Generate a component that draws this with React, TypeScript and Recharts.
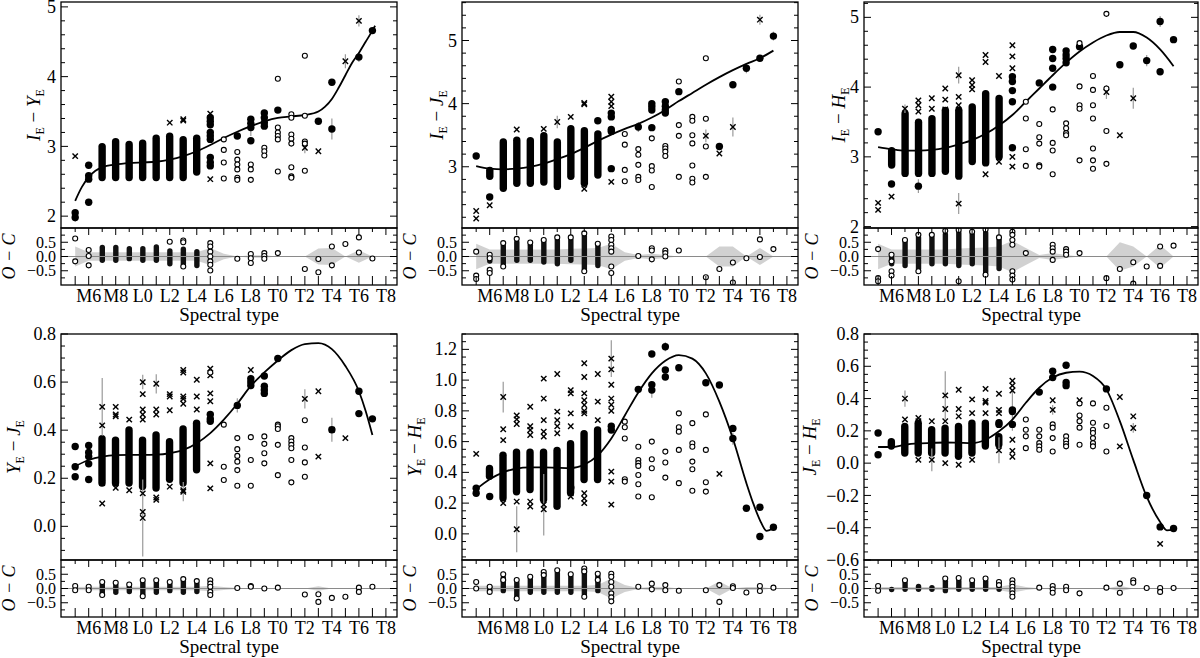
import React from 'react';
import { ComposedChart, Scatter, Bar, Area, XAxis, YAxis, ReferenceLine, ErrorBar } from 'recharts';

const FONT = 'Liberation Serif, DejaVu Serif, serif';

// spectral type index: M5 = 15, L0 = 20, T0 = 30, T8 = 38
const SPT_TICKS = [15, 16, 17, 18, 19, 20, 21, 22, 23, 24, 25, 26, 27, 28, 29, 30, 31, 32, 33, 34, 35, 36, 37, 38];
const SPT_LABEL_POS = [16, 18, 20, 22, 24, 26, 28, 30, 32, 34, 36, 38];
const SPT_LABELS = ['M6', 'M8', 'L0', 'L2', 'L4', 'L6', 'L8', 'T0', 'T2', 'T4', 'T6', 'T8'];
const BAND_SPT = [15, 16, 17, 18, 19, 20, 21, 22, 23, 24, 25, 26, 27, 28, 29, 30, 31, 32, 33, 34, 35, 36, 37];
const RES_MAJOR = [-0.5, 0, 0.5];
const RES_TICKS = [-0.75, -0.5, -0.25, 0, 0.25, 0.5, 0.75];
const X_DOMAIN: [number, number] = [13.95, 38.82];

type P2 = [number, number];
type P3 = [number, number, number];

// ---------- I_E - Y_E ----------
const iyCols: P3[] = [[17, 2.5, 3.05], [18, 2.5, 3.12], [19, 2.5, 3.08], [20, 2.5, 3.1], [21, 2.5, 3.17], [22, 2.5, 3.2], [23, 2.5, 3.15], [24, 2.58, 3.17]];
const iyFilled: P2[] = [[15, 2.05], [15, 1.98], [16, 2.73], [16, 2.58], [16, 2.53], [16, 2.2], [25, 3.41], [25, 3.36], [25, 3.31], [25, 3.2], [25, 3.15], [25, 3.1], [25, 2.84], [25, 2.77], [25, 2.72], [27, 3.15], [28, 3.39], [28, 3.33], [28, 3.27], [28, 3.08], [29, 3.48], [29, 3.41], [29, 3.34], [29, 3.29], [30, 3.52], [33, 3.36], [34, 3.92], [34, 3.25], [36, 4.28], [37, 4.66]];
const iyCross: P2[] = [[15, 2.86], [22, 3.34], [23, 3.39], [23, 3.37], [25, 3.47], [25, 2.53], [32, 2.98], [33, 2.93], [35, 4.22], [36, 4.8]];
const iyOpen: P2[] = [[26, 3.1], [26, 2.95], [26, 2.77], [26, 2.54], [27, 2.92], [27, 2.81], [27, 2.74], [27, 2.67], [27, 2.55], [27, 2.52], [28, 2.74], [28, 2.67], [28, 2.52], [29, 2.98], [29, 2.93], [29, 2.87], [30, 3.97], [30, 3.27], [30, 3.2], [30, 3.15], [30, 3.1], [30, 2.64], [31, 3.46], [31, 3.41], [31, 3.17], [31, 3.11], [31, 3.04], [31, 2.7], [31, 2.57], [31, 2.55], [32, 4.3], [32, 3.44], [32, 3.07], [32, 3.04], [32, 2.65]];
const iyFit: P2[] = [[15, 2.22], [15.5, 2.42], [16, 2.56], [16.5, 2.65], [17, 2.7], [18, 2.74], [19, 2.76], [20, 2.77], [21, 2.78], [22, 2.81], [23, 2.86], [24, 2.93], [25, 3.02], [26, 3.12], [27, 3.21], [28, 3.29], [29, 3.36], [30, 3.41], [31, 3.43], [32, 3.45], [33, 3.5], [33.5, 3.57], [34, 3.68], [34.5, 3.84], [35, 4.02], [35.5, 4.2], [36, 4.34], [36.5, 4.5], [37, 4.66], [37.2, 4.73]];
const iyErr: P3[] = [[36, 4.8, 0.08], [35, 4.22, 0.1], [34, 3.25, 0.15], [32, 2.98, 0.08], [28, 3.27, 0.12], [36, 4.28, 0.07], [15, 1.98, 0.06]];
const iyResCols: P3[] = [[17, -0.23, 0.41], [18, -0.23, 0.41], [19, -0.17, 0.37], [20, -0.23, 0.37], [21, -0.23, 0.43], [22, -0.35, 0.29], [23, -0.35, 0.35], [24, -0.41, 0.26]];
const iyResOpen: P2[] = [[15, 0.63], [15, -0.17], [16, 0.23], [16, 0.02], [16, -0.31], [22, 0.52], [23, 0.56], [23, 0.5], [23, -0.35], [25, 0.47], [25, 0.35], [25, 0.17], [25, 0], [25, -0.17], [25, -0.29], [25, -0.49], [27, -0.08], [28, 0.09], [28, -0.06], [28, -0.23], [29, 0.12], [29, 0.02], [29, -0.08], [30, 0.12], [32, -0.44], [33, -0.09], [33, -0.55], [34, 0.35], [34, -0.31], [35, 0.44], [36, 0.67], [36, 0.14], [37, -0.07]];
const iyBand = [0.35, 0.15, 0.15, 0.15, 0.15, 0.15, 0.15, 0.15, 0.15, 0.15, 0.3, 0.1, 0, 0.04, 0.04, 0, 0, 0, 0.28, 0.3, 0, 0.22, 0];

// ---------- I_E - J_E ----------
const ijCols: P3[] = [[16, 2.79, 3.0], [17, 2.6, 3.45], [18, 2.68, 3.48], [19, 2.68, 3.47], [20, 2.7, 3.55], [21, 2.63, 3.45], [22, 2.79, 3.66], [23, 2.68, 3.63], [24, 2.81, 3.58]];
const ijFilled: P2[] = [[15, 3.17], [16, 2.52], [24, 3.73], [25, 3.85], [25, 3.79], [25, 3.59], [25, 3.56], [25, 2.97], [27, 3.63], [28, 4.0], [28, 3.95], [28, 3.9], [28, 3.62], [29, 4.03], [29, 3.96], [29, 3.9], [29, 3.85], [30, 4.19], [33, 3.32], [34, 4.3], [35, 4.56], [36, 4.72], [37, 5.07]];
const ijCross: P2[] = [[15, 2.3], [15, 2.18], [16, 2.39], [18, 3.59], [20, 3.6], [21, 3.71], [22, 3.79], [23, 4.01], [23, 3.99], [23, 2.65], [25, 4.11], [25, 4.03], [25, 3.96], [25, 2.76], [32, 3.49], [33, 3.21], [34, 3.63], [36, 5.33]];
const ijOpen: P2[] = [[26, 3.52], [26, 3.35], [26, 2.95], [26, 2.77], [27, 3.28], [27, 3.19], [27, 3.03], [27, 2.84], [27, 2.79], [28, 3.45], [28, 3.01], [28, 2.94], [28, 2.68], [29, 3.33], [29, 3.29], [29, 3.24], [29, 3.17], [30, 4.35], [30, 3.66], [30, 3.49], [30, 2.84], [31, 3.79], [31, 3.73], [31, 3.5], [31, 3.37], [31, 3.02], [31, 2.81], [31, 2.75], [32, 4.72], [32, 3.76], [32, 3.32], [32, 2.84]];
const ijFit: P2[] = [[15, 3.01], [16, 2.97], [17, 2.96], [18, 2.97], [19, 3.0], [20, 3.05], [21, 3.12], [22, 3.2], [23, 3.3], [24, 3.41], [25, 3.51], [26, 3.6], [27, 3.68], [28, 3.78], [29, 3.9], [30, 4.04], [31, 4.17], [32, 4.3], [33, 4.42], [34, 4.53], [35, 4.63], [36, 4.72], [37, 4.84]];
const ijErr: P3[] = [[34, 3.63, 0.15], [32, 3.49, 0.1], [36, 5.33, 0.08], [21, 3.71, 0.1], [27, 3.63, 0.08], [35, 4.56, 0.08], [37, 5.07, 0.07]];
const ijResCols: P3[] = [[16, -0.25, 0.05], [17, -0.35, 0.47], [18, -0.23, 0.6], [19, -0.23, 0.49], [20, -0.29, 0.58], [21, -0.35, 0.67], [22, -0.23, 0.67], [23, -0.52, 0.81], [24, -0.41, 0.47]];
const ijResOpen: P2[] = [[15, 0.17], [15, -0.67], [15, -0.79], [16, 0.06], [16, -0.06], [16, -0.47], [16, -0.58], [17, 0.47], [17, -0.35], [18, 0.62], [19, 0.49], [20, 0.58], [21, 0.67], [22, 0.67], [23, 0.81], [23, -0.52], [24, 0.45], [25, 0.7], [25, 0.58], [25, 0.41], [25, 0.29], [25, 0.17], [25, -0.35], [25, -0.58], [27, 0.02], [28, 0.29], [28, 0.21], [28, -0.1], [29, 0.21], [29, 0.12], [29, 0], [30, 0.21], [32, -0.73], [33, -0.44], [34, -0.21], [34, -0.91], [35, -0.06], [36, 0.6], [36, -0.02], [37, 0.26]];
const ijBand = [0.45, 0.25, 0.25, 0.25, 0.25, 0.25, 0.25, 0.27, 0.28, 0.3, 0.45, 0.15, 0.05, 0.1, 0.05, 0, 0, 0, 0.35, 0.35, 0, 0.3, 0];

// ---------- I_E - H_E ----------
const ihCols: P3[] = [[16, 2.83, 3.14], [17, 2.71, 3.67], [18, 2.71, 3.55], [19, 2.71, 3.6], [20, 2.74, 3.72], [21, 2.67, 3.72], [22, 2.88, 3.77], [23, 2.86, 3.96], [24, 2.95, 3.89]];
const ihFilled: P2[] = [[15, 3.36], [16, 2.61], [18, 2.58], [25, 4.15], [25, 4.08], [25, 3.95], [25, 3.79], [25, 3.13], [27, 4.06], [28, 4.54], [28, 4.41], [28, 4.27], [28, 4.0], [29, 4.52], [29, 4.46], [29, 4.41], [29, 4.35], [30, 4.58], [33, 4.32], [34, 4.59], [35, 4.38], [36, 4.94], [36, 4.22], [37, 4.68]];
const ihCross: P2[] = [[15, 2.34], [15, 2.24], [16, 2.43], [17, 3.69], [18, 3.81], [18, 3.74], [18, 3.65], [19, 3.84], [19, 3.69], [20, 3.98], [20, 3.82], [20, 3.68], [21, 4.17], [21, 3.86], [21, 3.74], [21, 2.33], [22, 4.1], [22, 4.03], [22, 3.97], [23, 4.46], [23, 4.36], [23, 2.75], [24, 4.16], [24, 2.93], [25, 4.6], [25, 4.44], [25, 4.27], [25, 3.0], [25, 2.86], [32, 3.93], [33, 3.31], [34, 3.84]];
const ihOpen: P2[] = [[26, 3.79], [26, 3.55], [26, 3.11], [26, 2.87], [27, 3.47], [27, 3.28], [27, 3.19], [27, 2.88], [27, 2.86], [28, 3.68], [28, 3.2], [28, 3.09], [28, 2.75], [29, 3.48], [29, 3.41], [29, 3.34], [29, 3.31], [30, 4.63], [30, 4.01], [30, 3.74], [30, 3.69], [30, 2.95], [31, 4.16], [31, 3.96], [31, 3.74], [31, 3.55], [31, 3.12], [31, 2.95], [31, 2.83], [32, 5.05], [32, 3.98], [32, 3.37], [32, 2.9]];
const ihFit: P2[] = [[15, 3.14], [16, 3.11], [17, 3.09], [18, 3.09], [19, 3.1], [20, 3.13], [21, 3.18], [22, 3.24], [23, 3.33], [24, 3.45], [25, 3.6], [26, 3.79], [27, 3.98], [28, 4.17], [29, 4.35], [30, 4.51], [31, 4.64], [32, 4.74], [33, 4.79], [34, 4.79], [35, 4.71], [36, 4.54], [37, 4.3]];
const ihErr: P3[] = [[21, 2.33, 0.15], [21, 4.17, 0.12], [34, 3.84, 0.15], [32, 3.93, 0.1], [18, 2.58, 0.1], [36, 4.94, 0.08], [17, 3.69, 0.06], [35, 4.38, 0.08]];
const ihResCols: P3[] = [[16, -0.35, 0.06], [17, -0.41, 0.6], [18, -0.52, 0.76], [19, -0.35, 0.76], [20, -0.35, 0.87], [21, -0.41, 0.93], [22, -0.35, 0.87], [23, -0.64, 0.93], [24, -0.52, 0.67]];
const ihResOpen: P2[] = [[15, 0.26], [15, -0.76], [15, -0.87], [16, 0.06], [16, -0.17], [16, -0.52], [16, -0.67], [17, 0.58], [18, 0.76], [18, -0.52], [19, 0.76], [20, 0.9], [21, 0.93], [21, -0.87], [22, 0.87], [23, 0.95], [23, -0.64], [24, 0.67], [25, 0.87], [25, 0.76], [25, 0.58], [25, 0.41], [25, -0.52], [25, -0.67], [25, -0.81], [26, 0.12], [28, 0.41], [28, 0.29], [28, 0.17], [28, -0.12], [29, 0.26], [29, 0.17], [29, 0.06], [30, 0.12], [32, -0.76], [33, -0.44], [34, -0.2], [34, -0.95], [35, -0.35], [36, 0.35], [36, -0.33], [37, 0.38]];
const ihBand = [0.45, 0.25, 0.25, 0.25, 0.25, 0.25, 0.28, 0.3, 0.32, 0.35, 0.55, 0.3, 0.05, 0.12, 0.05, 0, 0, 0, 0.5, 0.35, 0, 0.4, 0];

// ---------- Y_E - J_E ----------
const yjCols: P3[] = [[17, 0.165, 0.38], [18, 0.165, 0.374], [19, 0.165, 0.416], [20, 0.15, 0.374], [21, 0.144, 0.395], [22, 0.18, 0.367], [23, 0.165, 0.42], [24, 0.22, 0.444]];
const yjFilled: P2[] = [[15, 0.332], [15, 0.248], [15, 0.206], [16, 0.336], [16, 0.307], [16, 0.29], [16, 0.26], [16, 0.195], [25, 0.465], [25, 0.447], [25, 0.437], [27, 0.503], [28, 0.614], [28, 0.6], [28, 0.586], [29, 0.625], [29, 0.583], [29, 0.567], [29, 0.553], [30, 0.698], [34, 0.402], [36, 0.562], [36, 0.469], [37, 0.447]];
const yjCross: P2[] = [[17, 0.497], [17, 0.42], [17, 0.18], [17, 0.095], [18, 0.497], [18, 0.465], [18, 0.458], [18, 0.18], [18, 0.16], [19, 0.444], [19, 0.15], [20, 0.6], [20, 0.55], [20, 0.486], [20, 0.465], [20, 0.444], [20, 0.137], [20, 0.06], [20, 0.035], [21, 0.593], [21, 0.486], [21, 0.465], [21, 0.12], [21, 0.11], [22, 0.55], [22, 0.54], [22, 0.483], [22, 0.165], [23, 0.65], [23, 0.64], [23, 0.54], [23, 0.53], [23, 0.51], [23, 0.15], [23, 0.144], [24, 0.61], [24, 0.54], [24, 0.486], [25, 0.656], [25, 0.628], [25, 0.553], [25, 0.52], [25, 0.262], [25, 0.158], [28, 0.65], [32, 0.53], [33, 0.562], [33, 0.29], [34, 0.402], [35, 0.367]];
const yjOpen: P2[] = [[25, 0.64], [26, 0.423], [26, 0.248], [26, 0.193], [27, 0.367], [27, 0.321], [27, 0.293], [27, 0.269], [27, 0.234], [27, 0.169], [28, 0.371], [28, 0.276], [28, 0.169], [29, 0.374], [29, 0.343], [29, 0.304], [29, 0.262], [30, 0.423], [30, 0.416], [30, 0.405], [30, 0.339], [30, 0.213], [31, 0.367], [31, 0.353], [31, 0.339], [31, 0.325], [31, 0.276], [31, 0.183], [32, 0.441], [32, 0.328], [32, 0.266], [32, 0.206]];
const yjFit: P2[] = [[15, 0.25], [16, 0.276], [17, 0.29], [18, 0.296], [19, 0.297], [20, 0.297], [21, 0.298], [22, 0.304], [23, 0.318], [24, 0.346], [25, 0.388], [26, 0.444], [27, 0.51], [28, 0.584], [29, 0.64], [30, 0.69], [31, 0.733], [32, 0.758], [33, 0.762], [34, 0.737], [35, 0.667], [36, 0.562], [36.5, 0.48], [37, 0.38]];
const yjErr: P3[] = [[17, 0.497, 0.12], [20, 0.035, 0.16], [20, 0.6, 0.03], [21, 0.593, 0.04], [34, 0.402, 0.05], [32, 0.53, 0.04], [27, 0.503, 0.03], [28, 0.6, 0.03], [23, 0.144, 0.04]];
const yjResCols: P3[] = [[16, -0.06, 0.06], [17, -0.29, 0.23], [18, -0.23, 0.2], [19, -0.2, 0.14], [20, -0.29, 0.29], [21, -0.23, 0.29], [22, -0.17, 0.23], [23, -0.23, 0.35], [24, -0.2, 0.26]];
const yjResOpen: P2[] = [[15, 0.09], [15, -0.06], [16, 0.06], [16, -0.06], [17, 0.23], [17, -0.23], [18, 0.2], [19, 0.14], [20, 0.29], [20, -0.27], [21, 0.29], [22, 0.23], [23, 0.33], [24, 0.26], [25, 0.29], [25, 0.17], [25, 0.06], [25, -0.12], [25, -0.23], [27, 0.02], [28, 0.09], [28, 0.06], [29, 0], [30, 0.03], [32, -0.21], [33, -0.2], [33, -0.47], [34, -0.33], [35, -0.29], [36, 0.03], [36, -0.12], [37, 0.06]];
const yjBand = [0.05, 0.06, 0.06, 0.06, 0.06, 0.06, 0.06, 0.06, 0.06, 0.06, 0.1, 0.05, 0.02, 0.02, 0.01, 0, 0, 0, 0.08, 0, 0.02, 0.02, 0];

// ---------- Y_E - H_E ----------
const yhCols: P3[] = [[16, 0.35, 0.45], [17, 0.21, 0.535], [18, 0.25, 0.556], [19, 0.264, 0.556], [20, 0.2, 0.556], [21, 0.156, 0.567], [22, 0.243, 0.61], [23, 0.33, 0.676], [24, 0.33, 0.7]];
const yhFilled: P2[] = [[15, 0.297], [15, 0.264], [16, 0.243], [22, 0.3], [25, 0.7], [25, 0.676], [27, 0.94], [28, 1.17], [28, 0.97], [28, 0.935], [29, 1.217], [29, 1.066], [29, 1.02], [30, 1.08], [32, 0.983], [33, 0.968], [34, 0.686], [34, 0.62], [35, 0.167], [36, 0.173], [36, -0.017], [37, 0.043]];
const yhCross: P2[] = [[15, 0.52], [17, 0.89], [17, 0.68], [17, 0.61], [17, 0.2], [18, 0.77], [18, 0.745], [18, 0.715], [18, 0.21], [18, 0.03], [19, 0.827], [19, 0.7], [19, 0.676], [19, 0.643], [19, 0.21], [19, 0.178], [20, 1.01], [20, 0.88], [20, 0.74], [20, 0.665], [20, 0.633], [20, 0.19], [20, 0.16], [21, 1.04], [21, 0.795], [21, 0.74], [21, 0.7], [21, 0.654], [22, 0.935], [22, 0.914], [22, 0.784], [22, 0.7], [22, 0.264], [22, 0.243], [23, 1.11], [23, 1.02], [23, 0.914], [23, 0.87], [23, 0.838], [23, 0.8], [23, 0.784], [23, 0.264], [23, 0.23], [23, 0.2], [24, 1.04], [24, 0.86], [24, 0.74], [25, 1.14], [25, 1.07], [25, 0.97], [25, 0.88], [25, 0.84], [25, 0.8], [25, 0.405], [25, 0.34], [25, 0.19], [33, 0.39]];
const yhOpen: P2[] = [[26, 0.73], [26, 0.693], [26, 0.62], [26, 0.355], [26, 0.34], [27, 0.567], [27, 0.48], [27, 0.46], [27, 0.442], [27, 0.383], [27, 0.323], [27, 0.243], [28, 0.6], [28, 0.485], [28, 0.427], [28, 0.238], [29, 0.535], [29, 0.464], [29, 0.366], [30, 0.784], [30, 0.693], [30, 0.665], [30, 0.546], [30, 0.33], [31, 0.72], [31, 0.589], [31, 0.567], [31, 0.47], [31, 0.42], [31, 0.28], [32, 0.777], [32, 0.546], [32, 0.336], [32, 0.275]];
const yhFit: P2[] = [[15, 0.29], [16, 0.355], [17, 0.4], [18, 0.425], [19, 0.432], [20, 0.433], [21, 0.43], [22, 0.428], [23, 0.45], [24, 0.51], [25, 0.62], [26, 0.77], [27, 0.92], [28, 1.044], [29, 1.126], [30, 1.163], [31, 1.14], [32, 1.044], [33, 0.86], [34, 0.62], [35, 0.33], [35.5, 0.2], [36, 0.09], [36.5, 0.02], [37, 0.036]];
const yhErr: P3[] = [[17, 0.89, 0.1], [18, 0.03, 0.15], [20, 0.19, 0.2], [25, 1.14, 0.12], [28, 0.935, 0.05], [34, 0.62, 0.04], [29, 1.217, 0.03]];
const yhResCols: P3[] = [[16, -0.12, 0.12], [17, -0.17, 0.47], [18, -0.35, 0.29], [19, -0.23, 0.41], [20, -0.23, 0.58], [21, -0.23, 0.64], [22, -0.23, 0.5], [23, -0.29, 0.7], [24, -0.17, 0.52]];
const yhResOpen: P2[] = [[15, 0.23], [15, 0], [16, 0.06], [16, -0.12], [17, 0.5], [17, 0.3], [18, 0.3], [18, -0.35], [19, 0.41], [20, 0.58], [20, 0.47], [21, 0.64], [22, 0.5], [23, 0.7], [23, 0.6], [23, -0.29], [24, 0.52], [24, 0.3], [25, 0.52], [25, 0.41], [25, 0.23], [25, 0.06], [25, -0.17], [25, -0.31], [25, -0.45], [27, 0.06], [28, 0.17], [28, -0.03], [29, 0.12], [29, -0.06], [30, -0.08], [32, -0.06], [33, 0.12], [33, -0.47], [34, 0.08], [34, 0.02], [35, -0.14], [36, 0.09], [36, -0.09], [37, 0.03]];
const yhBand = [0.1, 0.1, 0.1, 0.1, 0.1, 0.1, 0.1, 0.1, 0.1, 0.12, 0.35, 0.12, 0.02, 0.06, 0.05, 0, 0, 0, 0.25, 0, 0.05, 0.05, 0];

// ---------- J_E - H_E ----------
const jhCols: P3[] = [[16, 0.083, 0.155], [17, 0.04, 0.25], [18, 0.04, 0.27], [19, 0.04, 0.23], [20, 0.04, 0.24], [21, 0.02, 0.25], [22, 0.04, 0.27], [23, 0.083, 0.27], [24, 0.093, 0.187]];
const jhFilled: P2[] = [[15, 0.187], [15, 0.052], [24, 0.25], [24, 0.24], [25, 0.33], [25, 0.32], [25, 0.24], [27, 0.44], [28, 0.57], [28, 0.53], [29, 0.606], [29, 0.5], [29, 0.48], [32, 0.46], [35, -0.2], [36, -0.395], [37, -0.405]];
const jhCross: P2[] = [[17, 0.4], [17, 0.27], [18, 0.28], [18, 0.26], [18, 0.02], [19, 0.26], [19, 0.02], [20, 0.42], [20, 0.335], [20, 0.26], [20, 0.0], [21, 0.455], [21, 0.335], [21, 0.29], [21, -0.01], [22, 0.395], [22, 0.31], [22, 0.02], [23, 0.46], [23, 0.385], [23, 0.375], [23, 0.31], [24, 0.43], [24, 0.33], [24, 0.31], [24, 0.08], [25, 0.51], [25, 0.48], [25, 0.45], [25, 0.145], [25, 0.076], [25, 0.04], [28, 0.39], [28, 0.33], [30, 0.39], [33, 0.41], [33, 0.104], [34, 0.29], [34, 0.218], [36, -0.5]];
const jhOpen: P2[] = [[26, 0.27], [26, 0.207], [26, 0.166], [26, 0.093], [27, 0.207], [27, 0.166], [27, 0.124], [27, 0.104], [27, 0.083], [28, 0.24], [28, 0.22], [28, 0.155], [28, 0.072], [29, 0.166], [29, 0.14], [29, 0.12], [29, 0.104], [30, 0.37], [30, 0.295], [30, 0.26], [30, 0.22], [30, 0.114], [31, 0.37], [31, 0.25], [31, 0.207], [31, 0.187], [31, 0.155], [31, 0.124], [31, 0.104], [32, 0.343], [32, 0.23], [32, 0.072]];
const jhFit: P2[] = [[15, 0.1], [16, 0.1], [17, 0.114], [18, 0.122], [19, 0.126], [20, 0.128], [21, 0.126], [22, 0.124], [23, 0.145], [24, 0.197], [25, 0.27], [26, 0.374], [27, 0.467], [28, 0.53], [29, 0.56], [30, 0.567], [31, 0.54], [32, 0.457], [33, 0.26], [34, 0.02], [35, -0.208], [36, -0.364], [36.5, -0.416], [37, -0.412]];
const jhErr: P3[] = [[20, 0.42, 0.15], [25, 0.33, 0.13], [17, 0.4, 0.05], [24, 0.08, 0.08], [19, 0.02, 0.07], [28, 0.33, 0.03], [34, 0.218, 0.03]];
const jhResCols: P3[] = [[16, -0.06, 0.06], [17, -0.12, 0.29], [18, -0.12, 0.17], [19, -0.12, 0.12], [20, -0.17, 0.35], [21, -0.12, 0.37], [22, -0.12, 0.29], [23, -0.12, 0.35], [24, -0.12, 0.23]];
const jhResOpen: P2[] = [[15, 0.09], [15, -0.08], [17, 0.29], [20, 0.35], [21, 0.37], [22, 0.29], [23, 0.35], [24, 0.23], [24, 0.12], [25, 0.29], [25, 0.17], [25, 0.06], [25, -0.06], [25, -0.17], [25, -0.29], [27, 0.03], [28, 0.09], [28, -0.03], [28, -0.15], [29, 0.06], [29, -0.06], [30, -0.17], [32, 0.03], [33, 0.17], [33, -0.15], [34, 0.29], [34, 0.2], [35, 0.02], [36, 0.02], [36, -0.12], [37, 0.02]];
const jhBand = [0.05, 0.05, 0.05, 0.05, 0.05, 0.05, 0.05, 0.05, 0.05, 0.05, 0.15, 0.05, 0.01, 0.03, 0.02, 0, 0, 0, 0.1, 0, 0.02, 0.02, 0];

// ---------- layout ----------
const COL_LEFT = [61, 462, 864];
const COL_W = [336, 336, 334];
const ROW_TOP = [2, 334];
const MH = 226;
const RH = 57;

const steps = (a: number, b: number, s: number) => {
  const out: number[] = [];
  for (let v = a; v <= b + 1e-9; v += s) out.push(Math.round(v * 1000) / 1000);
  return out;
};
const fmtInt = (v: number) => String(Math.round(v));
const fmt1 = (v: number) => v.toFixed(1).replace('-', '\u2212');

interface Panel {
  a: string;
  b: string;
  col: number;
  row: number;
  titleDx: number;
  yDomain: [number, number];
  yMajor: number[];
  yTicks: number[];
  yFmt: (v: number) => string;
  cols: P3[];
  filled: P2[];
  cross: P2[];
  open: P2[];
  fit: P2[];
  err: P3[];
  resCols: P3[];
  resOpen: P2[];
  band: number[];
}

const PANELS: Panel[] = [
  { a: 'I', b: 'Y', col: 0, row: 0, titleDx: -21, yDomain: [1.83, 5.07], yMajor: [2, 3, 4, 5], yTicks: steps(2, 5, 0.2), yFmt: fmtInt,
    cols: iyCols, filled: iyFilled, cross: iyCross, open: iyOpen, fit: iyFit, err: iyErr, resCols: iyResCols, resOpen: iyResOpen, band: iyBand },
  { a: 'I', b: 'J', col: 1, row: 0, titleDx: -19, yDomain: [2.03, 5.61], yMajor: [3, 4, 5], yTicks: steps(2.2, 5.6, 0.2), yFmt: fmtInt,
    cols: ijCols, filled: ijFilled, cross: ijCross, open: ijOpen, fit: ijFit, err: ijErr, resCols: ijResCols, resOpen: ijResOpen, band: ijBand },
  { a: 'I', b: 'H', col: 2, row: 0, titleDx: -19, yDomain: [1.98, 5.22], yMajor: [2, 3, 4, 5], yTicks: steps(2, 5.2, 0.2), yFmt: fmtInt,
    cols: ihCols, filled: ihFilled, cross: ihCross, open: ihOpen, fit: ihFit, err: ihErr, resCols: ihResCols, resOpen: ihResOpen, band: ihBand },
  { a: 'Y', b: 'J', col: 0, row: 1, titleDx: -41, yDomain: [-0.14, 0.8], yMajor: [0, 0.2, 0.4, 0.6, 0.8], yTicks: steps(-0.1, 0.8, 0.05), yFmt: fmt1,
    cols: yjCols, filled: yjFilled, cross: yjCross, open: yjOpen, fit: yjFit, err: yjErr, resCols: yjResCols, resOpen: yjResOpen, band: yjBand },
  { a: 'Y', b: 'H', col: 1, row: 1, titleDx: -41, yDomain: [-0.17, 1.3], yMajor: [0, 0.2, 0.4, 0.6, 0.8, 1.0, 1.2], yTicks: steps(-0.15, 1.3, 0.05), yFmt: fmt1,
    cols: yhCols, filled: yhFilled, cross: yhCross, open: yhOpen, fit: yhFit, err: yhErr, resCols: yhResCols, resOpen: yhResOpen, band: yhBand },
  { a: 'J', b: 'H', col: 2, row: 1, titleDx: -48, yDomain: [-0.6, 0.8], yMajor: [-0.6, -0.4, -0.2, 0, 0.2, 0.4, 0.6, 0.8], yTicks: steps(-0.6, 0.8, 0.05), yFmt: fmt1,
    cols: jhCols, filled: jhFilled, cross: jhCross, open: jhOpen, fit: jhFit, err: jhErr, resCols: jhResCols, resOpen: jhResOpen, band: jhBand },
];

const toXY = (arr: P2[]) => arr.map(([x, y]) => ({ x, y }));
const toXYE = (arr: P3[]) => arr.map(([x, y, e]) => ({ x, y, e }));

// ---------- marker shapes ----------
const Empty = () => <g />;
const FilledDot = (p: any) => <circle cx={p.cx} cy={p.cy} r={3.7} fill="#000" />;
const OpenDot = (p: any) => <circle cx={p.cx} cy={p.cy} r={2.5} fill="#fff" stroke="#000" strokeWidth={1.1} />;
const CrossMark = (p: any) => {
  const s = 2.7;
  return (
    <g stroke="#000" strokeWidth={1.4}>
      <line x1={p.cx - s} y1={p.cy - s} x2={p.cx + s} y2={p.cy + s} />
      <line x1={p.cx - s} y1={p.cy + s} x2={p.cx + s} y2={p.cy - s} />
    </g>
  );
};
// a dense run of points at one spectral type, drawn as a capsule centred on the bar's x
const capsule = (half: number, fill: string) => (p: any) => {
  if (p.height == null || !Number.isFinite(p.height) || !Number.isFinite(p.y)) return <g />;
  const cx = p.x + p.width / 2;
  const y0 = Math.min(p.y, p.y + p.height);
  const h = Math.abs(p.height);
  return <rect x={cx - half} y={y0} width={half * 2} height={Math.max(h, half * 2)} rx={half} ry={half} fill={fill} />;
};
const MainCapsule = capsule(3.7, '#000');
const ResCapsule = capsule(2.7, '#111');

// ---------- ticks (inward, on all four sides) ----------
const XTick = (props: any) => {
  const { x, payload, top, bottom, topLen, labels } = props;
  const v = payload.value as number;
  const major = v % 2 === 0;
  const i = SPT_LABEL_POS.indexOf(v);
  return (
    <g>
      <line x1={x} x2={x} y1={bottom} y2={bottom - 9} stroke="#000" strokeWidth={1} />
      <line x1={x} x2={x} y1={top} y2={top + (major ? topLen : topLen - 3)} stroke="#000" strokeWidth={1} />
      {labels && i >= 0 && (
        <text x={x} y={bottom + 17} textAnchor="middle" fontSize={18} fontFamily={FONT} fill="#000">
          {SPT_LABELS[i]}
        </text>
      )}
    </g>
  );
};

const YTick = (props: any) => {
  const { y, payload, left, right, major, fmt, size } = props;
  const v = payload.value as number;
  const isMajor = major.some((m: number) => Math.abs(m - v) < 1e-6);
  const len = isMajor ? 7 : 4;
  return (
    <g>
      <line x1={left} x2={left + len} y1={y} y2={y} stroke="#000" strokeWidth={1} />
      <line x1={right} x2={right - len} y1={y} y2={y} stroke="#000" strokeWidth={1} />
      {isMajor && (
        <text x={left - 5} y={y} dy="0.34em" textAnchor="end" fontSize={size} fontFamily={FONT} fill="#000">
          {fmt(v)}
        </text>
      )}
    </g>
  );
};

function MainPlot({ p }: { p: Panel }) {
  const left = COL_LEFT[p.col];
  const w = COL_W[p.col];
  const top = ROW_TOP[p.row];
  const colData = p.cols.map(([x, lo, hi]) => ({ x, c: [lo, hi] }));
  return (
    <div style={{ position: 'absolute', left: left - 60, top: top - 10 }}>
      <ComposedChart width={w + 64} height={MH + 24} data={colData} margin={{ top: 10, right: 4, bottom: 14, left: 0 }}>
        <XAxis type="number" dataKey="x" domain={X_DOMAIN} allowDataOverflow ticks={SPT_TICKS} interval={0} height={0}
          axisLine={false} tickLine={false}
          tick={(t: any) => <XTick {...t} top={10} bottom={10 + MH} topLen={8} labels={false} />} />
        <YAxis type="number" dataKey="y" domain={p.yDomain} allowDataOverflow ticks={p.yTicks} interval={0} width={60}
          axisLine={false} tickLine={false}
          tick={(t: any) => <YTick {...t} left={60} right={60 + w} major={p.yMajor} fmt={p.yFmt} size={18} />} />
        <Scatter data={toXYE(p.err)} shape={Empty} isAnimationActive={false}>
          <ErrorBar dataKey="e" direction="y" width={0} stroke="#9a9a9a" strokeWidth={1.2} />
        </Scatter>
        <Bar dataKey="c" shape={MainCapsule} isAnimationActive={false} />
        <Scatter data={toXY(p.filled)} shape={FilledDot} isAnimationActive={false} />
        <Scatter data={toXY(p.fit)} fill="#000" line={{ stroke: '#000', strokeWidth: 1.8 }} lineJointType="monotoneX"
          shape={Empty} isAnimationActive={false} />
        <Scatter data={toXY(p.cross)} shape={CrossMark} isAnimationActive={false} />
        <Scatter data={toXY(p.open)} shape={OpenDot} isAnimationActive={false} />
      </ComposedChart>
    </div>
  );
}

function ResidualPlot({ p }: { p: Panel }) {
  const left = COL_LEFT[p.col];
  const w = COL_W[p.col];
  const top = ROW_TOP[p.row] + MH;
  const data = BAND_SPT.map((x, i) => {
    const col = p.resCols.find((c) => c[0] === x);
    return { x, band: [-p.band[i], p.band[i]], c: col ? [col[1], col[2]] : null };
  });
  return (
    <div style={{ position: 'absolute', left: left - 60, top }}>
      <ComposedChart width={w + 64} height={RH + 48} data={data} margin={{ top: 0, right: 4, bottom: 0, left: 0 }}>
        <XAxis type="number" dataKey="x" domain={X_DOMAIN} allowDataOverflow ticks={SPT_TICKS} interval={0} height={48}
          axisLine={false} tickLine={false}
          tick={(t: any) => <XTick {...t} top={0} bottom={RH} topLen={7} labels />} />
        <YAxis type="number" dataKey="y" domain={[-1, 1]} allowDataOverflow ticks={RES_TICKS} interval={0} width={60}
          axisLine={false} tickLine={false}
          tick={(t: any) => <YTick {...t} left={60} right={60 + w} major={RES_MAJOR} fmt={fmt1} size={16} />} />
        <Bar dataKey="c" shape={ResCapsule} isAnimationActive={false} />
        <Area dataKey="band" type="linear" stroke="none" fill="#999" fillOpacity={0.45} isAnimationActive={false} />
        <ReferenceLine y={0} stroke="#8a8a8a" strokeWidth={1.2} />
        <Scatter data={toXY(p.resOpen)} shape={OpenDot} isAnimationActive={false} />
      </ComposedChart>
    </div>
  );
}

function Titles() {
  return (
    <svg width={1200} height={658} style={{ position: 'absolute', left: 0, top: 0, pointerEvents: 'none' }}>
      {PANELS.map((p, k) => {
        const left = COL_LEFT[p.col];
        const w = COL_W[p.col];
        const top = ROW_TOP[p.row];
        const mx = left + p.titleDx;
        const my = top + MH / 2;
        const rx = left - 46;
        const ry = top + MH + RH / 2;
        return (
          <g key={k} fontFamily={FONT} fill="#000">
            <rect x={left} y={top} width={w} height={MH} fill="none" stroke="#000" strokeWidth={1.3} />
            <rect x={left} y={top + MH} width={w} height={RH} fill="none" stroke="#000" strokeWidth={1.3} />
            <text transform={`translate(${mx},${my}) rotate(-90)`} textAnchor="middle" fontSize={19}>
              <tspan fontStyle="italic">{p.a}</tspan>
              <tspan fontSize={12} dy={4}>E</tspan>
              <tspan dy={-4}>{' \u2212 '}</tspan>
              <tspan fontStyle="italic">{p.b}</tspan>
              <tspan fontSize={12} dy={4}>E</tspan>
            </text>
            <text transform={`translate(${rx},${ry}) rotate(-90)`} textAnchor="middle" fontSize={18} fontStyle="italic">
              {'O \u2212 C'}
            </text>
            <text x={left + w / 2} y={top + MH + RH + 36} textAnchor="middle" fontSize={19}>
              Spectral type
            </text>
          </g>
        );
      })}
    </svg>
  );
}

export default function App() {
  return (
    <div style={{ position: 'absolute', left: 0, top: 0, width: 1200, height: 658, background: '#fff', overflow: 'hidden', fontFamily: FONT }}>
      {PANELS.map((p, k) => (
        <React.Fragment key={k}>
          <MainPlot p={p} />
          <ResidualPlot p={p} />
        </React.Fragment>
      ))}
      <Titles />
    </div>
  );
}
